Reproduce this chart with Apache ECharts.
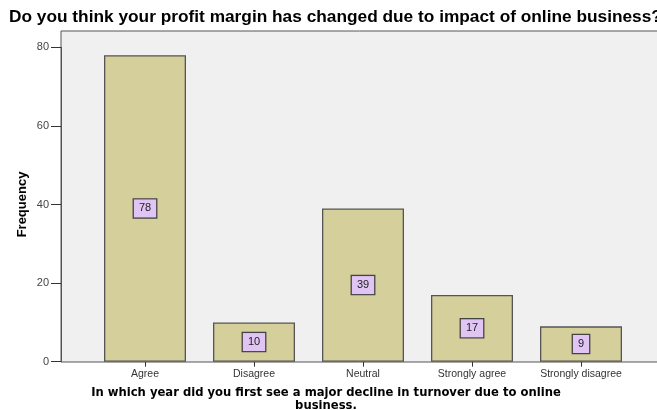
<!DOCTYPE html>
<html>
<head>
<meta charset="utf-8">
<script src="https://cdn.jsdelivr.net/npm/echarts@6/dist/echarts.min.js"></script>
<style>
  html, body { margin: 0; padding: 0; background: #fff; }
  #chart { width: 657px; height: 410px; }
</style>
</head>
<body>
<div id="chart"></div>
<script>
// chart data
var categories = ['Agree', 'Disagree', 'Neutral', 'Strongly agree', 'Strongly disagree']
var frequency = [78, 10, 39, 17, 9]
var yTicks = [0, 20, 40, 60, 80]

var titleText = 'Do you think your profit margin has changed due to impact of online business?'
var xTitle = 'In which year did you first see a major decline in turnover due to online\nbusiness.'
var yTitle = 'Frequency'

var font = 'Arial, "Liberation Sans", sans-serif'

var chart = echarts.init(document.getElementById('chart'))

var option = {
  animation: false,
  textStyle: { fontFamily: font },
  title: [
    {
      text: titleText,
      left: 9,
      top: 9,
      padding: 0,
      textStyle: { fontSize: 17.3, fontWeight: 'bold', color: '#000', fontFamily: font }
    },
    {
      // x axis title (SPSS centres it on the whole chart)
      text: xTitle,
      left: 326,
      top: 386,
      padding: 0,
      textAlign: 'center',
      textStyle: { fontSize: 11.6, fontWeight: 'bold', color: '#000', lineHeight: 13, fontFamily: '"DejaVu Sans", Verdana, sans-serif' }
    }
  ],
  grid: [
    // background frame (gray plot area)
    {
      left: 61, top: 31, right: -12, bottom: 48,
      outerBoundsMode: 'none',
      show: true, backgroundColor: '#f0f0f0', borderColor: '#555', borderWidth: 1
    },
    // bars
    {
      left: 90.5, width: 545, top: 47.3, bottom: 48.3,
      outerBoundsMode: 'none'
    }
  ],
  xAxis: [
    { gridIndex: 0, type: 'value', show: false, min: 0, max: 1 },
    {
      gridIndex: 1,
      type: 'category',
      data: categories,
      axisLine: { show: false },
      axisTick: { show: true, alignWithLabel: true, length: 5, lineStyle: { color: '#333' } },
      axisLabel: { color: '#333', fontSize: 10.5, margin: 7, interval: 0 }
    }
  ],
  yAxis: [
    { gridIndex: 0, type: 'value', show: false, min: 0, max: 1 },
    {
      gridIndex: 1,
      type: 'value',
      min: yTicks[0],
      max: yTicks[yTicks.length - 1],
      interval: 20,
      offset: 29.5,
      axisLine: { show: true, lineStyle: { color: '#555' } },
      axisTick: { show: true, length: 10, lineStyle: { color: '#333' } },
      axisLabel: { color: '#444', fontSize: 11, margin: 12 },
      splitLine: { show: false },
      name: yTitle,
      nameLocation: 'middle',
      nameGap: 32,
      nameMoveOverlap: false,
      nameRotate: 90,
      nameTextStyle: { fontSize: 13, fontWeight: 'bold', color: '#000', fontFamily: font }
    }
  ],
  series: [
    {
      type: 'bar',
      xAxisIndex: 1,
      yAxisIndex: 1,
      data: frequency,
      barWidth: 82,
      itemStyle: { color: '#d4cf9b', borderColor: '#555', borderWidth: 1.3 },
      label: {
        show: true,
        position: 'inside',
        fontSize: 11,
        color: '#222',
        backgroundColor: '#e0c4f4',
        borderColor: '#444',
        borderWidth: 1.3,
        padding: [4, 5, 3, 5]
      }
    }
  ]
}

chart.setOption(option)
</script>
</body>
</html>
